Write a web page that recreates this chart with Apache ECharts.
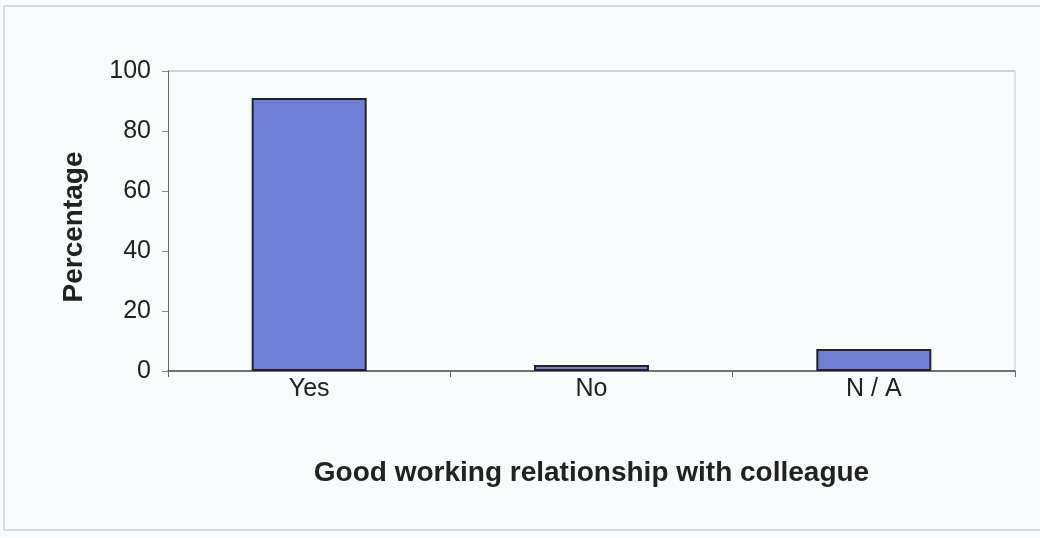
<!DOCTYPE html>
<html><head><meta charset="utf-8">
<script src="https://cdn.jsdelivr.net/npm/echarts@6/dist/echarts.min.js"></script>
<style>html,body{margin:0;padding:0;background:#f8fbfc;}#c{width:1040px;height:538px;}</style>
</head><body><div id="c"></div>
<script>
const categories = ['Yes', 'No', 'N / A'];
const values = [91, 2, 7.3];
const yTicks = [0, 20, 40, 60, 80, 100];
const xTitle = 'Good working relationship with colleague';
const yTitle = 'Percentage';

const FONT = 'Liberation Sans, Arial';
const chart = echarts.init(document.getElementById('c'));
chart.setOption({
  backgroundColor: '#f8fbfc',
  animation: false,
  graphic: [
    {type:'rect', shape:{x:4, y:6, width:1040, height:524}, style:{fill:'none', stroke:'#b8bcbf', lineWidth:1}, silent:true},
    {type:'line', shape:{x1:168, y1:71, x2:1015, y2:71}, style:{stroke:'#aaa', lineWidth:1}, silent:true},
    {type:'line', shape:{x1:1015, y1:71, x2:1015, y2:371}, style:{stroke:'#ccc', lineWidth:1}, silent:true}
  ],
  grid: {left: 168, right: 25, top: 71, bottom: 167},
  xAxis: {
    type: 'category', data: categories,
    axisLine: {lineStyle: {color: '#444', width: 1.5}},
    axisTick: {show: true, length: 6, lineStyle: {color: '#666'}},
    axisLabel: {color: '#222', fontSize: 25, fontFamily: FONT, margin: 6},
    name: xTitle, nameLocation: 'middle', nameGap: 88,
    nameTextStyle: {fontSize: 28, fontWeight: 'bold', color: '#222', fontFamily: FONT}
  },
  yAxis: {
    type: 'value', min: yTicks[0], max: yTicks[yTicks.length-1], interval: 20,
    axisLine: {show: true, lineStyle: {color: '#666', width: 1}},
    axisTick: {show: true, length: 6, lineStyle: {color: '#888'}},
    splitLine: {show: false},
    axisLabel: {color: '#222', fontSize: 25, fontFamily: FONT, margin: 17},
    name: yTitle, nameLocation: 'middle', nameGap: 80, nameRotate: 90,
    nameTextStyle: {fontSize: 28, fontWeight: 'bold', color: '#222', fontFamily: FONT, padding: [0, 12, 0, 0]}
  },
  series: [{
    type: 'bar', data: values, barWidth: 115,
    itemStyle: {color: '#7080d8', borderColor: '#222', borderWidth: 2}
  }]
});
</script></body></html>
